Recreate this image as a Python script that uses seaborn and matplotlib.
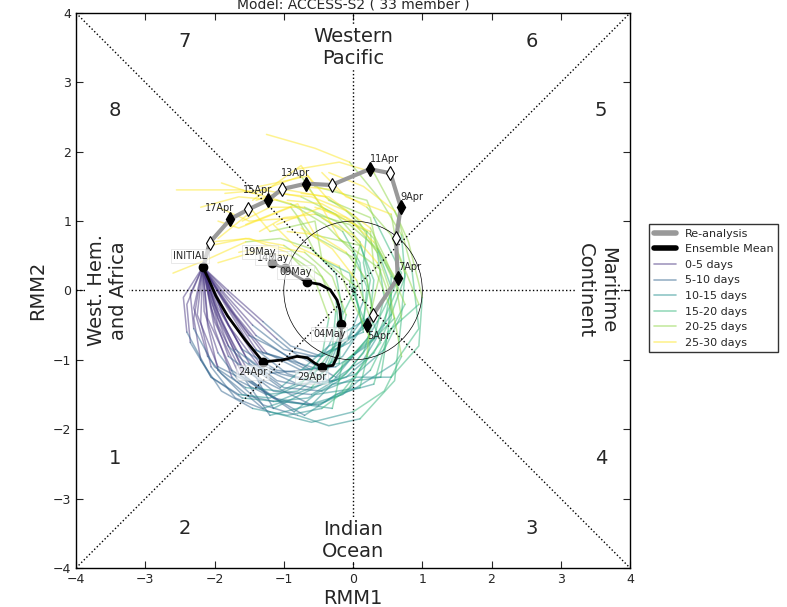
import numpy as np
import pandas as pd
import matplotlib
matplotlib.use("Agg")
import matplotlib.pyplot as plt
import seaborn as sns
from matplotlib.lines import Line2D

title = "Model: ACCESS-S2 ( 33 member )"

# ensemble members: start point + positions every 2.5 days (day 2.5 ... day 30)
initial_point = (-2.17, 0.34)
lead_days = [0, 2.5, 5, 7.5, 10, 12.5, 15, 17.5, 20, 22.5, 25, 27.5, 30]
member_tracks = [
    [(-1.85, -0.30), (-1.35, -1.05), (-1.05, -1.20), (-0.45, -1.35), (-0.25, -0.85), (0.15, -0.55), (-0.05, 0.25), (-0.45, 0.45), (-0.55, 1.00), (-1.20, 0.85), (-1.45, 1.15), (-1.95, 0.75)],
    [(-1.95, -0.40), (-1.60, -1.10), (-1.15, -1.45), (-0.60, -1.50), (-0.10, -1.20), (0.30, -0.70), (0.45, -0.10), (0.35, 0.55), (0.05, 1.05), (-0.40, 1.35), (-0.95, 1.45), (-1.40, 1.30)],
    [(-2.05, -0.25), (-1.80, -0.95), (-1.40, -1.25), (-1.15, -1.70), (-0.45, -1.35), (-0.30, -1.25), (0.25, -0.65), (-0.05, 0.10), (0.10, 0.65), (-0.55, 0.80), (-0.80, 1.25), (-1.55, 0.95)],
    [(-2.45, -0.10), (-2.40, -0.60), (-2.05, -1.25), (-1.60, -1.55), (-1.10, -1.60), (-0.60, -1.40), (-0.25, -0.95), (-0.10, -0.35), (-0.30, 0.20), (-0.70, 0.55), (-1.20, 0.65), (-1.65, 0.55)],
    [(-1.70, -0.15), (-1.10, -0.70), (-0.85, -0.90), (-0.25, -1.25), (0.20, -0.70), (0.35, -0.45), (0.70, 0.25), (0.30, 1.05), (0.20, 1.30), (-0.55, 1.50), (-0.75, 1.80), (-1.45, 1.30)],
    [(-1.90, -0.45), (-1.55, -1.25), (-1.05, -1.60), (-0.50, -1.65), (0.05, -1.40), (0.60, -1.05), (0.95, -0.55), (0.85, 0.30), (0.65, 1.05), (0.30, 1.70), (-0.20, 1.85), (-0.80, 1.75)],
    [(-2.00, -0.20), (-1.70, -0.85), (-1.25, -1.20), (-0.75, -1.15), (-0.35, -0.80), (-0.15, -0.30), (-0.25, 0.25), (-0.60, 0.60), (-1.05, 0.75), (-1.55, 0.70), (-2.10, 0.45), (-2.60, 0.25)],
    [(-1.80, -0.50), (-1.35, -1.10), (-0.80, -1.35), (-0.30, -1.30), (0.15, -1.00), (0.45, -0.50), (0.55, 0.05), (0.35, 0.60), (-0.05, 0.95), (-0.55, 1.10), (-1.00, 1.05), (-1.35, 0.85)],
    [(-2.25, -0.35), (-1.95, -1.10), (-1.55, -1.30), (-1.20, -1.80), (-0.40, -1.60), (-0.15, -1.45), (0.40, -0.75), (0.25, -0.35), (0.40, 0.30), (-0.20, 0.75), (-0.45, 1.20), (-1.10, 0.95)],
    [(-1.75, -0.05), (-1.30, -0.45), (-0.90, -0.80), (-0.45, -0.95), (-0.05, -0.75), (0.25, -0.35), (0.30, 0.15), (0.10, 0.65), (-0.25, 1.00), (-0.70, 1.20), (-1.20, 1.20), (-1.60, 1.00)],
    [(-2.10, -0.50), (-1.95, -1.15), (-1.60, -1.50), (-1.15, -1.60), (-0.65, -1.55), (-0.20, -1.30), (0.15, -0.90), (0.30, -0.40), (0.20, 0.15), (-0.10, 0.55), (-0.50, 0.80), (-0.95, 0.85)],
    [(-1.85, -0.20), (-1.45, -0.85), (-1.10, -0.95), (-0.45, -1.15), (-0.20, -0.65), (0.30, -0.35), (0.15, 0.40), (0.20, 0.85), (-0.45, 1.20), (-0.75, 1.65), (-1.45, 1.40), (-1.90, 1.55)],
    [(-2.35, -0.05), (-2.30, -0.55), (-2.00, -1.10), (-1.55, -1.40), (-1.05, -1.45), (-0.60, -1.25), (-0.30, -0.85), (-0.25, -0.30), (-0.45, 0.20), (-0.90, 0.50), (-1.45, 0.55), (-1.95, 0.40)],
    [(-1.95, -0.35), (-1.55, -1.10), (-1.30, -1.30), (-0.60, -1.65), (-0.30, -1.35), (0.40, -1.25), (0.50, -0.60), (0.95, -0.20), (0.65, 0.55), (0.55, 1.10), (-0.10, 1.35), (-0.45, 1.70)],
    [(-1.80, -0.25), (-1.40, -0.85), (-0.95, -1.20), (-0.45, -1.35), (0.05, -1.20), (0.45, -0.85), (0.70, -0.35), (0.75, 0.25), (0.55, 0.80), (0.20, 1.20), (-0.25, 1.45), (-0.75, 1.50)],
    [(-2.15, -0.30), (-1.95, -0.90), (-1.65, -1.30), (-1.25, -1.50), (-0.80, -1.45), (-0.40, -1.15), (-0.20, -0.65), (-0.25, -0.10), (-0.55, 0.35), (-1.00, 0.65), (-1.55, 0.75), (-2.05, 0.65)],
    [(-1.90, -0.10), (-1.50, -0.65), (-1.20, -0.80), (-0.60, -1.15), (-0.35, -0.80), (0.15, -0.60), (0.00, 0.15), (0.05, 0.45), (-0.60, 0.80), (-0.90, 1.20), (-1.65, 0.90), (-1.95, 1.00)],
    [(-2.00, -0.55), (-1.75, -1.25), (-1.30, -1.65), (-0.80, -1.80), (-0.35, -1.95), (0.10, -1.85), (0.60, -1.30), (0.70, -0.40), (0.60, 0.20), (0.30, 0.70), (-0.10, 1.05), (-0.55, 1.20)],
    [(-1.70, -0.35), (-1.25, -0.90), (-0.75, -1.15), (-0.25, -1.10), (0.20, -0.80), (0.55, -0.35), (0.75, 0.20), (0.70, 0.80), (0.40, 1.30), (-0.05, 1.85), (-0.55, 2.05), (-1.25, 2.25)],
    [(-2.30, -0.25), (-2.10, -0.95), (-1.90, -1.20), (-1.30, -1.70), (-1.00, -1.60), (-0.30, -1.70), (-0.15, -1.05), (0.25, -0.70), (-0.10, 0.05), (-0.20, 0.35), (-0.85, 0.65), (-1.15, 0.95)],
    [(-1.85, -0.40), (-1.50, -1.05), (-1.00, -1.40), (-0.45, -1.45), (0.05, -1.25), (0.55, -1.25), (0.95, -0.80), (1.00, -0.10), (0.80, 0.70), (0.60, 1.15), (0.15, 1.50), (-0.35, 1.70)],
    [(-2.05, -0.15), (-1.80, -0.80), (-1.60, -1.00), (-1.05, -1.40), (-0.75, -1.15), (-0.20, -1.05), (-0.15, -0.35), (0.05, 0.05), (-0.55, 0.55), (-0.80, 1.05), (-1.50, 1.00), (-1.95, 1.20)],
    [(-1.95, -0.25), (-1.60, -0.85), (-1.10, -1.15), (-0.60, -1.20), (-0.15, -0.95), (0.15, -0.50), (0.20, 0.05), (0.00, 0.55), (-0.40, 0.95), (-0.90, 1.25), (-1.60, 1.45), (-2.55, 1.45)],
    [(-2.20, -0.45), (-2.05, -1.10), (-1.70, -1.55), (-1.20, -1.75), (-0.60, -1.90), (0.00, -1.75), (0.45, -1.45), (0.70, -0.95), (0.55, -0.15), (0.35, 0.40), (0.00, 0.80), (-0.45, 1.05)],
    [(-1.80, -0.15), (-1.40, -0.65), (-0.95, -0.95), (-0.45, -0.95), (-0.05, -0.65), (0.15, -0.15), (0.10, 0.40), (-0.15, 0.85), (-0.60, 1.15), (-1.10, 1.30), (-1.65, 1.35), (-2.20, 1.20)],
    [(-2.10, -0.40), (-1.75, -1.15), (-1.45, -1.35), (-0.85, -1.75), (-0.55, -1.50), (0.10, -1.40), (0.25, -0.75), (0.60, -0.40), (0.30, 0.35), (0.25, 0.85), (-0.40, 1.15), (-0.70, 1.55)],
    [(-1.90, -0.30), (-1.55, -0.95), (-1.10, -1.30), (-0.60, -1.40), (-0.10, -1.25), (0.30, -0.90), (0.55, -0.40), (0.55, 0.20), (0.30, 0.75), (-0.10, 1.15), (-0.60, 1.35), (-1.10, 1.40)],
    [(-2.30, -0.40), (-2.20, -1.00), (-1.90, -1.45), (-1.45, -1.70), (-0.95, -1.80), (-0.45, -1.70), (-0.05, -1.40), (0.20, -0.95), (0.25, -0.40), (0.05, 0.15), (-0.30, 0.60), (-0.75, 0.90)],
    [(-1.75, -0.30), (-1.30, -0.90), (-0.95, -1.00), (-0.35, -1.30), (0.10, -0.85), (0.35, -0.65), (0.65, 0.05), (0.35, 0.60), (0.25, 1.05), (-0.35, 1.30), (-0.65, 1.65), (-1.35, 1.50)],
    [(-2.00, -0.45), (-1.65, -1.20), (-1.30, -1.45), (-0.70, -1.80), (-0.25, -1.50), (0.30, -1.35), (0.50, -0.65), (0.75, -0.20), (0.45, 0.50), (0.25, 0.90), (-0.35, 1.35), (-0.75, 1.40)],
    [(-2.40, -0.20), (-2.35, -0.75), (-2.05, -1.25), (-1.65, -1.50), (-1.20, -1.55), (-0.75, -1.35), (-0.45, -0.95), (-0.35, -0.40), (-0.55, 0.15), (-0.95, 0.55), (-1.50, 0.75), (-2.05, 0.70)],
    [(-1.85, -0.05), (-1.45, -0.50), (-1.00, -0.85), (-0.55, -0.95), (-0.15, -0.80), (0.15, -0.40), (0.25, 0.15), (0.10, 0.70), (-0.25, 1.10), (-0.75, 1.35), (-1.30, 1.45), (-1.85, 1.40)],
    [(-1.95, -0.50), (-1.60, -1.20), (-1.15, -1.55), (-0.65, -1.65), (-0.15, -1.50), (0.25, -1.15), (0.50, -0.65), (0.55, -0.05), (0.35, 0.55), (0.00, 1.00), (-0.45, 1.25), (-0.95, 1.30)],
]
segment_labels = ["0-5 days", "5-10 days", "10-15 days", "15-20 days", "20-25 days", "25-30 days"]

# ensemble mean, daily from 19Apr to 19May
mean_rmm1 = [-2.17, -2.08, -1.98, -1.81, -1.56, -1.30, -1.01, -0.81, -0.66, -0.55, -0.45,
             -0.29, -0.22, -0.19, -0.17, -0.17, -0.19, -0.23, -0.33, -0.48, -0.66,
             -0.77, -0.84, -0.90, -0.94, -0.98, -1.03, -1.07, -1.10, -1.14, -1.17]
mean_rmm2 = [0.34, 0.15, -0.08, -0.37, -0.71, -1.03, -1.00, -0.95, -0.97, -1.05, -1.10,
             -1.08, -0.93, -0.74, -0.60, -0.48, -0.28, -0.14, 0.01, 0.09, 0.12,
             0.18, 0.22, 0.27, 0.30, 0.32, 0.34, 0.35, 0.37, 0.38, 0.40]
mean_labels = ["INITIAL", "24Apr", "29Apr", "04May", "09May", "14May", "19May"]

# re-analysis, 5Apr to 19Apr
reana_rmm1 = [0.20, 0.29, 0.645, 0.62, 0.69, 0.54, 0.24, -0.31, -0.68, -1.03, -1.23, -1.51, -1.77, -2.07, -2.16]
reana_rmm2 = [-0.50, -0.35, 0.18, 0.75, 1.20, 1.69, 1.75, 1.52, 1.54, 1.46, 1.30, 1.17, 1.03, 0.69, 0.34]
reana_dates = ["5Apr", "6Apr", "7Apr", "8Apr", "9Apr", "10Apr", "11Apr", "12Apr",
               "13Apr", "14Apr", "15Apr", "16Apr", "17Apr", "18Apr", "19Apr"]

phase_numbers = ["1", "2", "3", "4", "5", "6", "7", "8"]
phase_x = [-3.44, -2.43, 2.58, 3.58, 3.58, 2.58, -2.43, -3.44]
phase_y = [-2.42, -3.43, -3.43, -2.42, 2.59, 3.59, 3.59, 2.59]

sns.set_style("ticks")
plt.rcParams["font.family"] = ["DejaVu Sans"]

# long table for seaborn: one unit per member per 5-day segment
rows = []
for m, track in enumerate(member_tracks):
    pts = [initial_point] + track
    for s, lab in enumerate(segment_labels):
        for k in range(2 * s, 2 * s + 3):
            rows.append({"unit": f"{m}_{s}", "segment": lab, "lead": lead_days[k],
                         "rmm1": pts[k][0], "rmm2": pts[k][1]})
members_df = pd.DataFrame(rows)

palette = dict(zip(segment_labels, sns.color_palette("viridis", as_cmap=True)(np.linspace(0.15, 1.0, 6))))

fig = plt.figure(figsize=(7.87, 6.07), dpi=100)
ax = fig.add_axes([0.0966, 0.0643, 0.704, 0.9143])

sns.lineplot(data=members_df, x="rmm1", y="rmm2", hue="segment", hue_order=segment_labels,
             units="unit", estimator=None, sort=False, palette=palette,
             lw=1.1, alpha=0.5, legend=False, ax=ax, zorder=1)

# phase space guides
ax.plot([-4, 4], [-4, 4], color="k", ls=":", lw=1, zorder=2)
ax.plot([-4, 4], [4, -4], color="k", ls=":", lw=1, zorder=2)
ax.plot([-4, 4], [0, 0], color="k", ls=":", lw=1, zorder=2)
ax.plot([0, 0], [-4, 4], color="k", ls=":", lw=1, zorder=2)
ax.add_patch(plt.Circle((0, 0), 1, fill=False, color="k", lw=0.5, zorder=2))

# re-analysis
ax.plot(reana_rmm1, reana_rmm2, color="#999999", lw=3, zorder=3)
ax.plot(reana_rmm1[0:14:2], reana_rmm2[0:14:2], ls="none", marker="d", ms=7,
        mfc="k", mec="k", zorder=4)
ax.plot(reana_rmm1[1:14:2], reana_rmm2[1:14:2], ls="none", marker="d", ms=7,
        mfc="white", mec="k", mew=0.8, zorder=4)

# ensemble mean
ax.plot(mean_rmm1, mean_rmm2, color="k", lw=2, zorder=5)
ax.plot(mean_rmm1[::5], mean_rmm2[::5], ls="none", marker="o", ms=6, color="k", zorder=6)


def date_label(x, y, text, box=False):
    ha = "left" if x > 0 else "right"
    va = "bottom" if y > 0 else "top"
    dx = 0 if x > 0 else 3
    dy = 4 if y > 0 else -4
    bbox = dict(facecolor="white", edgecolor="#cccccc", alpha=0.6, pad=1.5, lw=0.5) if box else None
    ax.annotate(text, (x, y), xytext=(dx, dy), textcoords="offset points",
                ha=ha, va=va, fontsize=7, bbox=bbox, zorder=7)


for i in range(0, 14, 2):
    date_label(reana_rmm1[i], reana_rmm2[i], reana_dates[i])
for j, lab in enumerate(mean_labels):
    date_label(mean_rmm1[j * 5], mean_rmm2[j * 5], lab, box=True)

# phase numbers and region names
for num, px, py in zip(phase_numbers, phase_x, phase_y):
    ax.text(px, py, num, fontsize=14, ha="center", va="center")
white = dict(facecolor="white", edgecolor="none", pad=1)
ax.text(0, 3.50, "Western\nPacific", fontsize=14, ha="center", va="center", bbox=white, zorder=3)
ax.text(0, -3.60, "Indian\nOcean", fontsize=14, ha="center", va="center", bbox=white, zorder=3)
ax.text(-3.55, 0, "West. Hem.\nand Africa", fontsize=14, ha="center", va="center",
        rotation=90, bbox=white, zorder=3)
ax.text(3.52, 0, "Maritime\nContinent", fontsize=14, ha="center", va="center",
        rotation=270, bbox=white, zorder=3)

ax.set_xlim(-4, 4)
ax.set_ylim(-4, 4)
ax.set_xticks(range(-4, 5))
ax.set_yticks(range(-4, 5))
ax.tick_params(direction="in", top=True, right=True, length=5, labelsize=9)
for sp in ax.spines.values():
    sp.set_color("k")
    sp.set_linewidth(1)
ax.set_xlabel("RMM1", fontsize=14, labelpad=2)
ax.set_ylabel("RMM2", fontsize=14)
ax.set_title(title, fontsize=10, pad=3)

handles = [Line2D([], [], color="#999999", lw=4), Line2D([], [], color="k", lw=4)]
handles += [Line2D([], [], color=palette[lab], lw=1.2, alpha=0.5) for lab in segment_labels]
leg = ax.legend(handles, ["Re-analysis", "Ensemble Mean"] + segment_labels,
                loc="center left", bbox_to_anchor=(1.035, 0.504), fontsize=8,
                frameon=True, fancybox=False, edgecolor="k", borderaxespad=0)
leg.get_frame().set_linewidth(1)

fig.savefig("out.png", dpi=100)
